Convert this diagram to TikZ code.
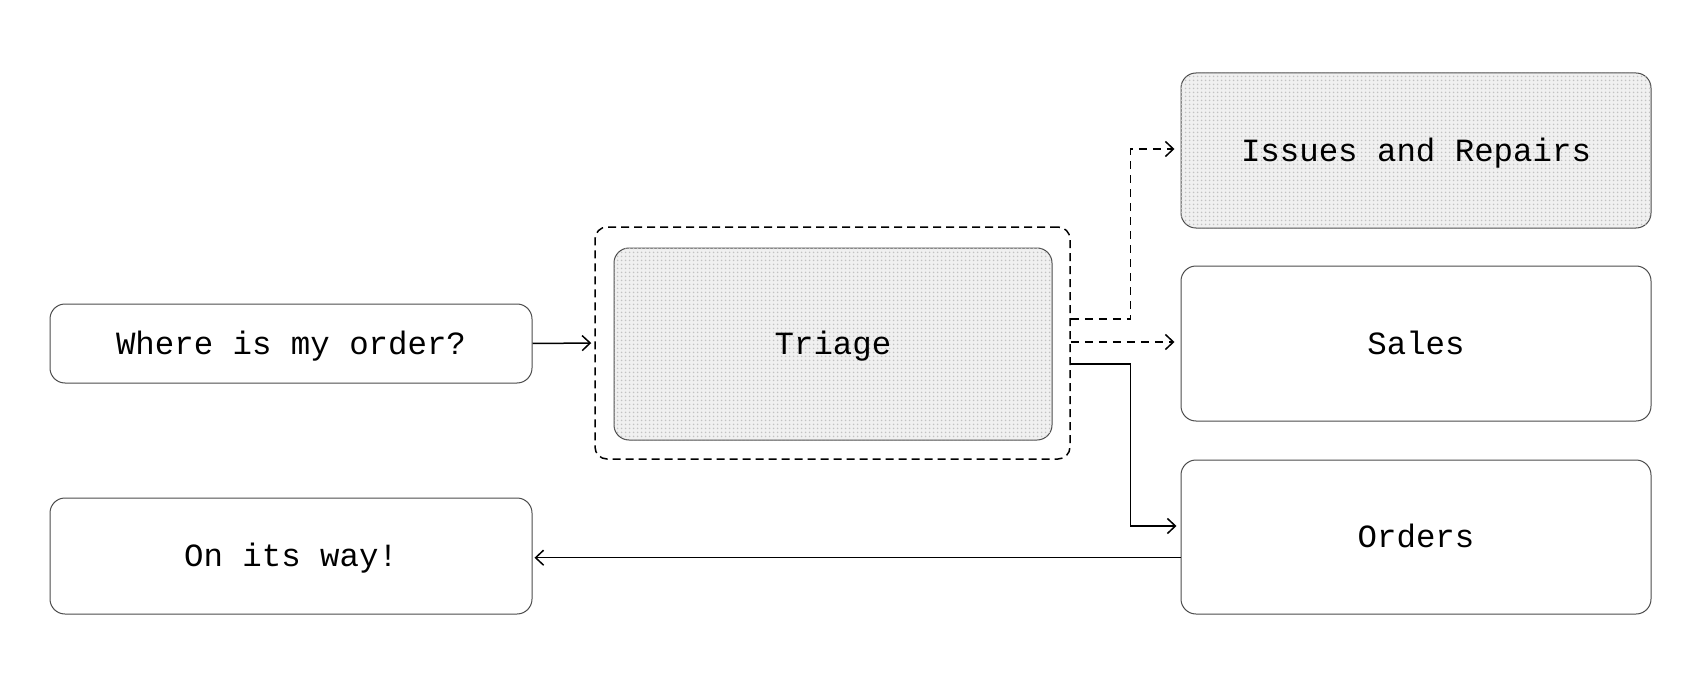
\documentclass[tikz,border=0pt]{standalone}
\usepackage{fontspec}
\setmonofont{Liberation Mono}
\usetikzlibrary{arrows.meta,patterns.meta}
\tikzdeclarepattern{
  name=halftone,
  type=uncolored,
  bounding box={(0,0) and (2pt,2pt)},
  tile size={(2pt,2pt)},
  code={\fill (1pt,1pt) circle (0.55pt);}
}
\tikzset{
  box/.style={draw=black!70, line width=0.5pt, rounded corners=7.5pt, fill=white,
    font=\ttfamily\fontsize{16.2}{19}\selectfont, text=black, align=center,
    inner sep=0pt, text height=10.67pt, text depth=0pt},
  shaded/.style={fill=black!6, postaction={pattern=halftone, pattern color=black!24}},
  conn/.style={line width=0.75pt, black, -{Straight Barb[length=4pt,width=7.5pt,line width=0.75pt]}},
  dconn/.style={conn, dash pattern=on 4pt off 3pt},
}
\begin{document}
\begin{tikzpicture}[x=0.5pt,y=-0.5pt]
\useasboundingbox (0,0) rectangle (1704,690);
\node[box, minimum width=241pt, minimum height=39.5pt] (where) at (291,343.5) {Where is my order?};
\node[box, minimum width=241pt, minimum height=58pt] (onway) at (291,556) {On its way!};
\node[draw=black, line width=0.75pt, dash pattern=on 4pt off 2.5pt, rounded corners=6pt,
  minimum width=237.5pt, minimum height=116pt, inner sep=0pt] (outer) at (832.5,343) {};
\node[box, shaded, minimum width=219pt, minimum height=96pt] (triage) at (833,344) {Triage};
\node[box, shaded, minimum width=235pt, minimum height=77.5pt] (issues) at (1416,150.5) {Issues and Repairs};
\node[box, minimum width=235pt, minimum height=77.5pt] (sales) at (1416,343.5) {Sales};
\node[box, minimum width=235pt, minimum height=77pt] (orders) at (1416,537) {Orders};

\draw[conn, shorten >=1.5pt] (where.east) -- (outer.west);
\draw[dconn, shorten >=3pt] ([yshift=12pt]outer.east) -| ([xshift=-25pt,yshift=0.75pt]issues.west) -- ([yshift=0.75pt]issues.west);
\draw[dconn, shorten >=3pt] ([yshift=0.5pt]outer.east) -- ([yshift=0.5pt]outer.east -| sales.west);
\draw[conn, shorten >=2pt] ([yshift=-10.5pt]outer.east) -| ([xshift=-25pt,yshift=5.5pt]orders.west) -- ([yshift=5.5pt]orders.west);
\draw[conn, shorten >=1pt] ([yshift=-10.35pt]orders.west) -- ([yshift=-10.35pt]orders.west -| onway.east);
\end{tikzpicture}
\end{document}
